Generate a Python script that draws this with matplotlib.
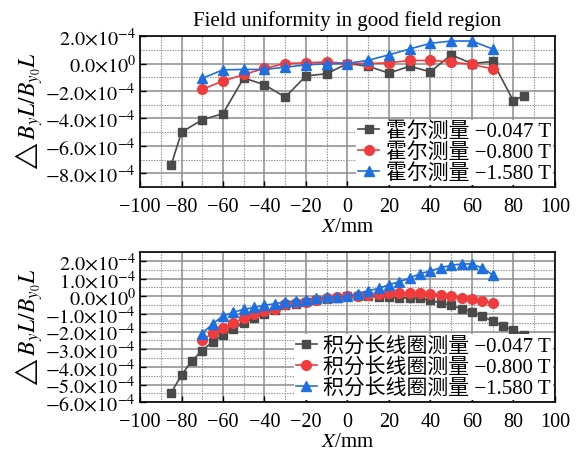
import matplotlib
matplotlib.use("Agg")
import matplotlib.pyplot as plt
from matplotlib.ticker import MultipleLocator, FuncFormatter

plt.rcParams['font.family'] = ['Liberation Serif', 'Noto Sans CJK SC']
plt.rcParams['mathtext.fontset'] = 'stix'
plt.rcParams['axes.unicode_minus'] = True

# ============================
#       DATA
# ============================

# Hall probe measurements (top panel), values in units of 1e-4
hall_x_047 = [-85, -80, -70, -60, -50, -40, -30, -20, -10, 0, 10, 20, 30, 40, 50, 60, 70, 80, 85]
hall_y_047 = [-7.4, -5.0, -4.1, -3.65, -1.05, -1.55, -2.45, -0.9, -0.75, 0.0,
              -0.2, -0.7, -0.2, -0.6, 0.63, 0.0, 0.15, -2.72, -2.34]
hall_x = [-70, -60, -50, -40, -30, -20, -10, 0, 10, 20, 30, 40, 50, 60, 70]
hall_y_800 = [-1.88, -1.28, -0.8, -0.36, 0.0, 0.05, 0.12, 0.0, 0.0, 0.05, 0.22, 0.22, 0.12, -0.07, -0.39]
hall_y_1580 = [-1.08, -0.46, -0.43, -0.43, -0.27, -0.1, -0.02, 0.0, 0.24, 0.63, 1.06, 1.47, 1.64, 1.64, 1.06]

# Integrating long coil measurements (bottom panel), values in units of 1e-4
coil_x_047 = [-85, -80, -75, -70, -65, -60, -55, -50, -45, -40, -35, -30, -25, -20, -15, -10, -5, 0,
              5, 10, 15, 20, 25, 30, 35, 40, 45, 50, 55, 60, 65, 70, 75, 80, 85]
coil_y_047 = [-5.47, -4.46, -3.65, -3.08, -2.57, -2.17, -1.85, -1.5, -1.24, -0.99, -0.78, -0.5, -0.42,
              -0.33, -0.22, -0.15, -0.08, 0.0, 0.0, -0.01, -0.02, -0.05, -0.08, -0.1, -0.12, -0.24,
              -0.37, -0.52, -0.7, -0.88, -1.14, -1.41, -1.7, -1.92, -2.21]
coil_x = [-70, -65, -60, -55, -50, -45, -40, -35, -30, -25, -20, -15, -10, -5, 0,
          5, 10, 15, 20, 25, 30, 35, 40, 45, 50, 55, 60, 65, 70]
coil_y_800 = [-2.5, -2.08, -1.81, -1.52, -1.24, -1.01, -0.84, -0.7, -0.45, -0.38, -0.3, -0.2, -0.12, -0.06, 0.0,
              0.02, 0.08, 0.15, 0.19, 0.19, 0.19, 0.19, 0.14, 0.08, 0.0, -0.12, -0.15, -0.27, -0.4]
coil_y_1580 = [-2.11, -1.56, -1.12, -0.91, -0.74, -0.63, -0.51, -0.42, -0.32, -0.27, -0.21, -0.12, -0.06, -0.02, 0.0,
               0.15, 0.32, 0.44, 0.66, 0.82, 1.03, 1.28, 1.43, 1.62, 1.75, 1.83, 1.83, 1.6, 1.22]

hall_labels = ['霍尔测量 −0.047 T', '霍尔测量 −0.800 T', '霍尔测量 −1.580 T']
coil_labels = ['积分长线圈测量 −0.047 T', '积分长线圈测量 −0.800 T', '积分长线圈测量 −1.580 T']

c_black = '#4a4a4a'
c_red = '#f03c3c'
c_blue = '#1f6fe0'


def sci_fmt(v, pos):
    if abs(v) < 1e-12:
        return r'$0.0{\times}10^{0}$'
    m = v / 1e-4
    return r'$%.1f{\times}10^{-4}$' % m


def style_axes(ax, ymin, ymax, ymajor, yminor):
    ax.set_xlim(-100, 100)
    ax.set_ylim(ymin, ymax)
    ax.xaxis.set_major_locator(MultipleLocator(20))
    ax.xaxis.set_minor_locator(MultipleLocator(10))
    ax.yaxis.set_major_locator(MultipleLocator(ymajor))
    ax.yaxis.set_minor_locator(MultipleLocator(yminor))
    ax.yaxis.set_major_formatter(FuncFormatter(sci_fmt))
    ax.grid(which='major', color='#8c8c8c', lw=1.1)
    ax.grid(which='minor', color='#8c8c8c', lw=0.8, ls=(0, (1.2, 1.2)))
    ax.set_axisbelow(True)
    ax.tick_params(which='both', direction='in', labelsize=14.5)
    ax.tick_params(axis='x', pad=7)
    ax.tick_params(axis='y', pad=3)
    ax.tick_params(which='major', length=4, width=1)
    ax.tick_params(which='minor', length=0)
    for s in ax.spines.values():
        s.set_linewidth(1.2)
    ax.set_xlabel(r'$X$/mm', fontsize=15, labelpad=1)
    ax.set_ylabel(r'$\triangle B_y L/B_{y_0} L$', fontsize=17, labelpad=0)


fig = plt.figure(figsize=(5.81, 4.52), dpi=100)

# ===== Top panel =====
ax1 = fig.add_axes([0.241, 0.584, 0.714, 0.334])
s = 1e-4
ax1.plot(hall_x_047, [v * s for v in hall_y_047], '-s', color=c_black, ms=6, lw=1.2, label=hall_labels[0])
ax1.plot(hall_x, [v * s for v in hall_y_800], '-o', color=c_red, ms=7, lw=1.2, label=hall_labels[1])
ax1.plot(hall_x, [v * s for v in hall_y_1580], '-^', color=c_blue, ms=7, lw=1.2, label=hall_labels[2])
style_axes(ax1, -9e-4, 2e-4, 2e-4, 1e-4)
ax1.set_title('Field uniformity in good field region', fontsize=15, pad=8)
leg1 = ax1.legend(loc='lower right', fontsize=15, frameon=True, edgecolor='none', framealpha=1,
                  borderaxespad=0.1, borderpad=0.1, labelspacing=0.05, handlelength=1.0,
                  handletextpad=0.3)

# ===== Bottom panel =====
ax2 = fig.add_axes([0.241, 0.108, 0.714, 0.332])
ax2.plot(coil_x_047, [v * s for v in coil_y_047], '-s', color=c_black, ms=6, lw=1.2, label=coil_labels[0])
ax2.plot(coil_x, [v * s for v in coil_y_800], '-o', color=c_red, ms=7, lw=1.2, label=coil_labels[1])
ax2.plot(coil_x, [v * s for v in coil_y_1580], '-^', color=c_blue, ms=7, lw=1.2, label=coil_labels[2])
style_axes(ax2, -6e-4, 2.5e-4, 1e-4, 0.5e-4)
leg2 = ax2.legend(loc='lower right', fontsize=15, frameon=True, edgecolor='none', framealpha=1,
                  borderaxespad=0.1, borderpad=0.1, labelspacing=0.05, handlelength=1.0,
                  handletextpad=0.3)

fig.savefig('out.png', dpi=100)
